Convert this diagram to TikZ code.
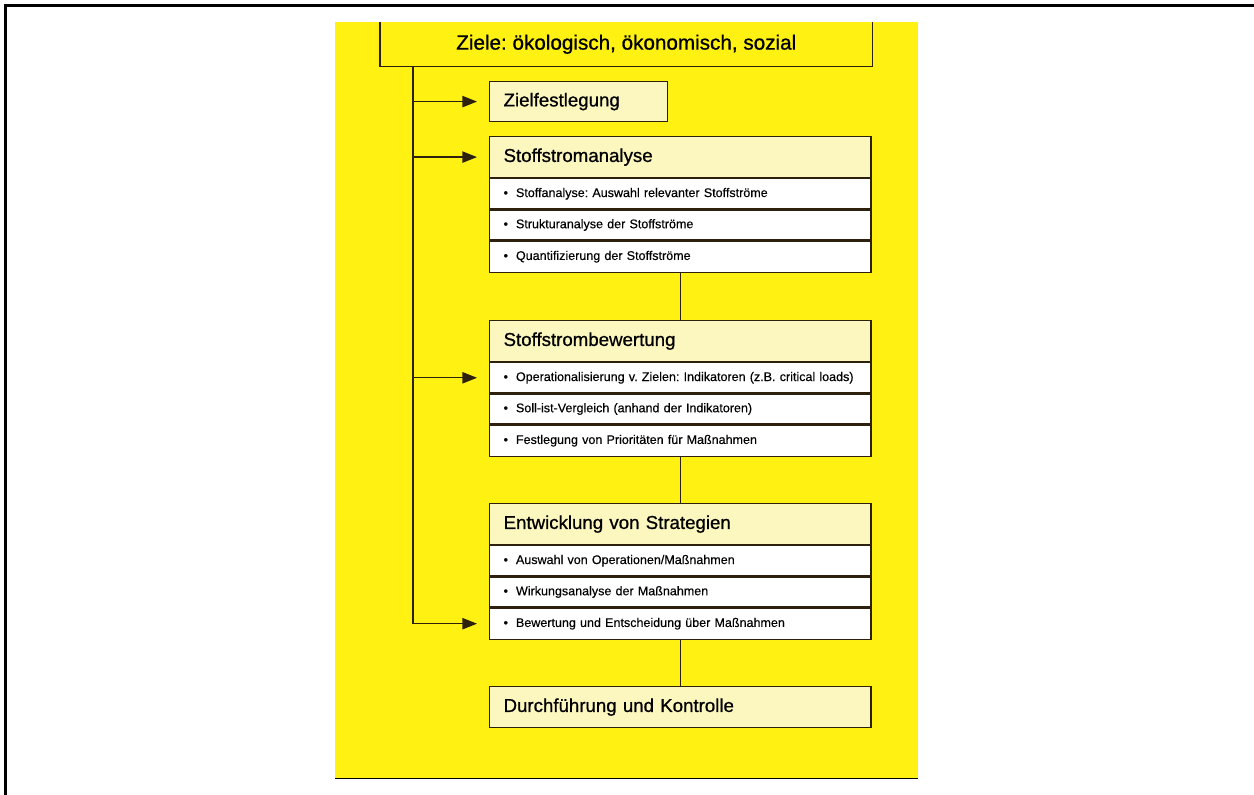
\documentclass[tikz,border=0pt]{standalone}
\usepackage{fontspec}
\setmainfont{Liberation Sans}
\newfontfamily\headfont[FakeBold=0.8]{Liberation Sans}
\newfontfamily\itemfont[FakeBold=0.3]{Liberation Sans}
\usetikzlibrary{arrows.meta}
\definecolor{panel}{RGB}{255,242,18}
\definecolor{cream}{RGB}{251,247,190}
\definecolor{ink}{RGB}{45,32,12}
\definecolor{shade}{RGB}{190,175,110}
% one bulleted line, kept on a single line
\newcommand\itm[1]{\mbox{\textbullet\hspace{6pt}#1}}

\begin{document}
\frenchspacing
\begin{tikzpicture}[x=0.75pt,y=-0.75pt,
  frame/.style={line width=2.25pt, black},
  box/.style={draw=ink, line width=0.9pt, rectangle, anchor=north west,
    inner xsep=10.5pt, inner ysep=0pt, align=left},
  hdrbox/.style={box, fill=cream, font=\headfont\fontsize{14}{16}\selectfont,
    text width=265pt, minimum height=30.75pt},
  rowbox/.style={box, fill=white, font=\itemfont\fontsize{9.4}{11}\selectfont,
    text width=265pt, minimum height=22.5pt},
  link/.style={draw=ink, line width=1pt},
  arr/.style={link, -{Triangle[length=11pt,width=8.5pt]}},
]
\useasboundingbox (0,0) rectangle (1254,795);

% page frame
\draw[frame] (5,795) -- (5,6) -- (1254,6);

% yellow sheet
\fill[panel] (335,22) rectangle (918,778);
\draw[shade, line width=0.6pt] (335,778) -- (918,778);

% goals bar, open at the top edge of the sheet
\node[anchor=north west, inner sep=0pt, minimum width=369pt, minimum height=33pt,
  font=\headfont\fontsize{15.5}{18}\selectfont] (ziele) at (380,22)
  {Ziele: ökologisch, ökonomisch, sozial};
\draw[link] (ziele.north west) -- (ziele.south west) -- (ziele.south east) -- (ziele.north east);

% goal setting
\node[hdrbox, text width=112.5pt, minimum height=30pt] (zf) at (489,81) {Zielfestlegung};

% material flow analysis
\node[hdrbox] (sa) at (489,136) {Stoffstromanalyse};
\node[rowbox] (sa1) at (sa.south west) {\itm{Stoffanalyse: Auswahl relevanter Stoffströme}};
\node[rowbox] (sa2) at (sa1.south west) {\itm{Strukturanalyse der Stoffströme}};
\node[rowbox, minimum height=23.25pt] (sa3) at (sa2.south west) {\itm{Quantifizierung der Stoffströme}};

% material flow evaluation
\node[hdrbox] (sb) at (489,320) {Stoffstrombewertung};
\node[rowbox] (sb1) at (sb.south west) {\itm{Operationalisierung v. Zielen: Indikatoren (z.B. critical loads)}};
\node[rowbox] (sb2) at (sb1.south west) {\itm{Soll-ist-Vergleich (anhand der Indikatoren)}};
\node[rowbox, minimum height=23.25pt] (sb3) at (sb2.south west) {\itm{Festlegung von Prioritäten für Maßnahmen}};

% strategy development
\node[hdrbox] (st) at (489,503) {Entwicklung von Strategien};
\node[rowbox] (st1) at (st.south west) {\itm{Auswahl von Operationen/Maßnahmen}};
\node[rowbox] (st2) at (st1.south west) {\itm{Wirkungsanalyse der Maßnahmen}};
\node[rowbox, minimum height=23.25pt] (st3) at (st2.south west) {\itm{Bewertung und Entscheidung über Maßnahmen}};

% implementation
\node[hdrbox] (df) at (489,686) {Durchführung und Kontrolle};

% feedback trunk from the goals
\coordinate (trunk) at ([xshift=24.75pt]ziele.south west);
\draw[link] (trunk) -- (trunk |- st3.west);
\draw[arr] (trunk |- zf.west) -- ([xshift=-9pt]zf.west);
\draw[arr] (trunk |- sa.west) -- ([xshift=-9pt]sa.west);
\draw[arr] (trunk |- sb1.west) -- ([xshift=-9pt]sb1.west);
\draw[arr] (trunk |- st3.west) -- ([xshift=-9pt]st3.west);

% main sequence
\draw[link] (sa3.south) -- (sb.north);
\draw[link] (sb3.south) -- (st.north);
\draw[link] (st3.south) -- (df.north);
\end{tikzpicture}
\end{document}
